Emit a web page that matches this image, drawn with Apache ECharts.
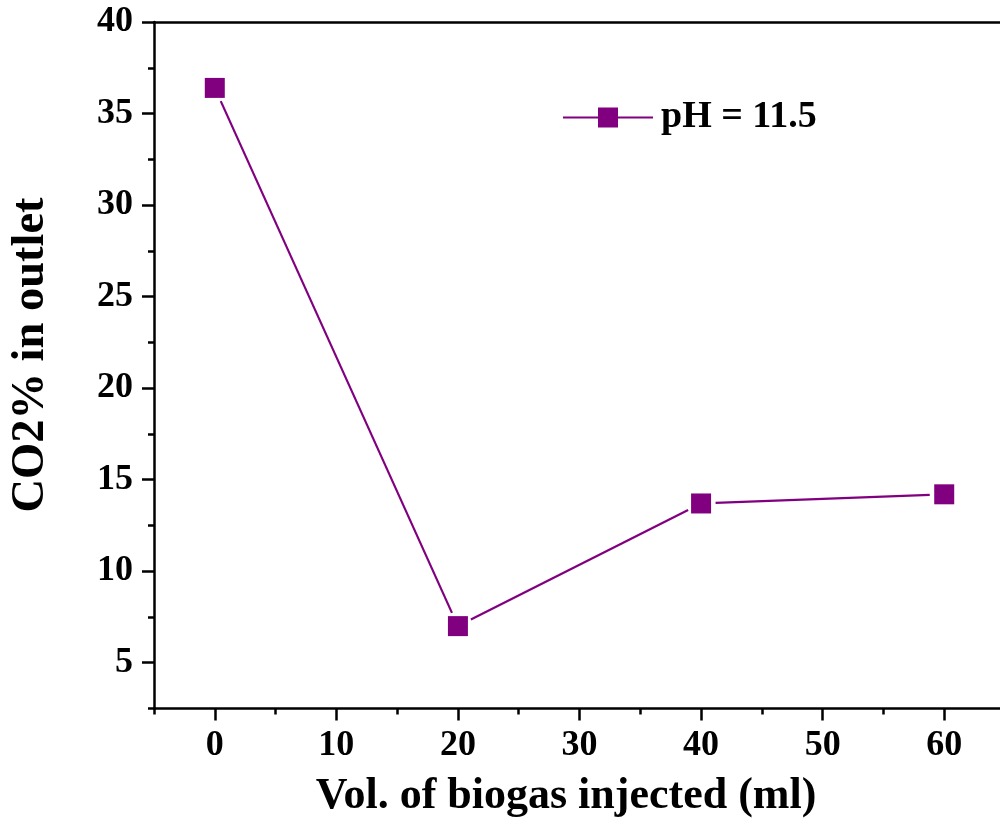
<!DOCTYPE html>
<html><head><meta charset="utf-8">
<script src="https://cdn.jsdelivr.net/npm/echarts@6/dist/echarts.min.js"></script>
<style>html,body{margin:0;padding:0;background:#fff}#c{width:1000px;height:827px}</style>
</head><body><div id="c"></div>
<script>
var xValues = [0, 20, 40, 60];
var co2Values = [36.4, 7.0, 13.7, 14.2];
var seriesName = 'pH = 11.5';
var xTicks = [0, 10, 20, 30, 40, 50, 60];
var xMinorTicks = [-5, 5, 15, 25, 35, 45, 55, 65];
var yTicks = [5, 10, 15, 20, 25, 30, 35, 40];
var yMinorTicks = [2.5, 7.5, 12.5, 17.5, 22.5, 27.5, 32.5, 37.5];
var xTitle = 'Vol. of biogas injected (ml)';
var yTitle = 'CO2% in outlet';

var FONT = '"Liberation Serif", "Times New Roman", serif';
var PURPLE = '#800080';
var XMIN = -5, XMAX = 65, YMIN = 2.5, YMAX = 40;

var points = xValues.map(function (x, i) { return [x, co2Values[i]]; });
var segments = [];
for (var i = 1; i < points.length; i++) {
  segments.push([points[i - 1][0], points[i - 1][1], points[i][0], points[i][1]]);
}

var chart = echarts.init(document.getElementById('c'), null, { renderer: 'canvas' });
var axisLine = { show: true, onZero: false, lineStyle: { color: '#000', width: 2.5 } };
var noLine = { show: false, onZero: false };
chart.setOption({
  backgroundColor: '#fff',
  animation: false,
  grid: { left: 154, right: -5, top: 22, bottom: 118.5, outerBoundsMode: 'none', containLabel: false },
  xAxis: [
    { type: 'value', position: 'bottom', min: XMIN, max: XMAX,
      axisLine: axisLine, splitLine: { show: false },
      axisTick: { show: true, inside: false, length: 12, customValues: xTicks, lineStyle: { color: '#000', width: 2.5 } },
      axisLabel: { customValues: xTicks, margin: 19, color: '#000', fontFamily: FONT, fontWeight: 'bold', fontSize: 36 } },
    { type: 'value', position: 'bottom', min: XMIN, max: XMAX,
      axisLine: noLine, splitLine: { show: false }, axisLabel: { show: false },
      axisTick: { show: true, inside: false, length: 6, customValues: xMinorTicks, lineStyle: { color: '#000', width: 2.5 } } },
    { type: 'value', position: 'top', min: XMIN, max: XMAX,
      axisLine: axisLine, splitLine: { show: false }, axisLabel: { show: false }, axisTick: { show: false } }
  ],
  yAxis: [
    { type: 'value', position: 'left', min: YMIN, max: YMAX,
      axisLine: axisLine, splitLine: { show: false },
      axisTick: { show: true, inside: false, length: 12, customValues: yTicks, lineStyle: { color: '#000', width: 2.5 } },
      axisLabel: { customValues: yTicks, margin: 21, color: '#000', fontFamily: FONT, fontWeight: 'bold', fontSize: 36 } },
    { type: 'value', position: 'left', min: YMIN, max: YMAX,
      axisLine: noLine, splitLine: { show: false }, axisLabel: { show: false },
      axisTick: { show: true, inside: false, length: 6, customValues: yMinorTicks, lineStyle: { color: '#000', width: 2.5 } } }
  ],
  legend: {
    left: 562, top: 98.5, padding: 0, orient: 'horizontal', selectedMode: false,
    itemWidth: 90, itemHeight: 25, itemGap: 10,
    textStyle: { color: '#000', fontFamily: FONT, fontWeight: 'bold', fontSize: 38, padding: [0, 0, 0, 3] },
    lineStyle: { color: PURPLE, width: 2, opacity: 1 },
    data: [seriesName]
  },
  graphic: [
    { type: 'text', x: 566, y: 797,
      style: { text: xTitle, fill: '#000', font: 'bold 44px ' + FONT, textAlign: 'center', textVerticalAlign: 'middle' } },
    { type: 'text', x: 31, y: 355, rotation: Math.PI / 2,
      style: { text: yTitle, fill: '#000', font: 'bold 46.5px ' + FONT, textAlign: 'center', textVerticalAlign: 'middle' } }
  ],
  series: [
    { type: 'custom', xAxisIndex: 0, yAxisIndex: 0, silent: true, z: 1,
      encode: { x: [0, 2], y: [1, 3] },
      data: segments,
      renderItem: function (params, api) {
        var p0 = api.coord([api.value(0), api.value(1)]);
        var p1 = api.coord([api.value(2), api.value(3)]);
        var dx = p1[0] - p0[0], dy = p1[1] - p0[1];
        var L = Math.sqrt(dx * dx + dy * dy), g = 14.5;
        return { type: 'line',
          shape: { x1: p0[0] + dx / L * g, y1: p0[1] + dy / L * g, x2: p1[0] - dx / L * g, y2: p1[1] - dy / L * g },
          style: { stroke: PURPLE, lineWidth: 2.2 } };
      } },
    { type: 'line', name: seriesName, xAxisIndex: 0, yAxisIndex: 0, z: 3,
      data: points, symbol: 'rect', symbolSize: 20, showAllSymbol: true,
      itemStyle: { color: PURPLE },
      lineStyle: { color: PURPLE, width: 2, opacity: 0 } }
  ]
});
</script></body></html>
